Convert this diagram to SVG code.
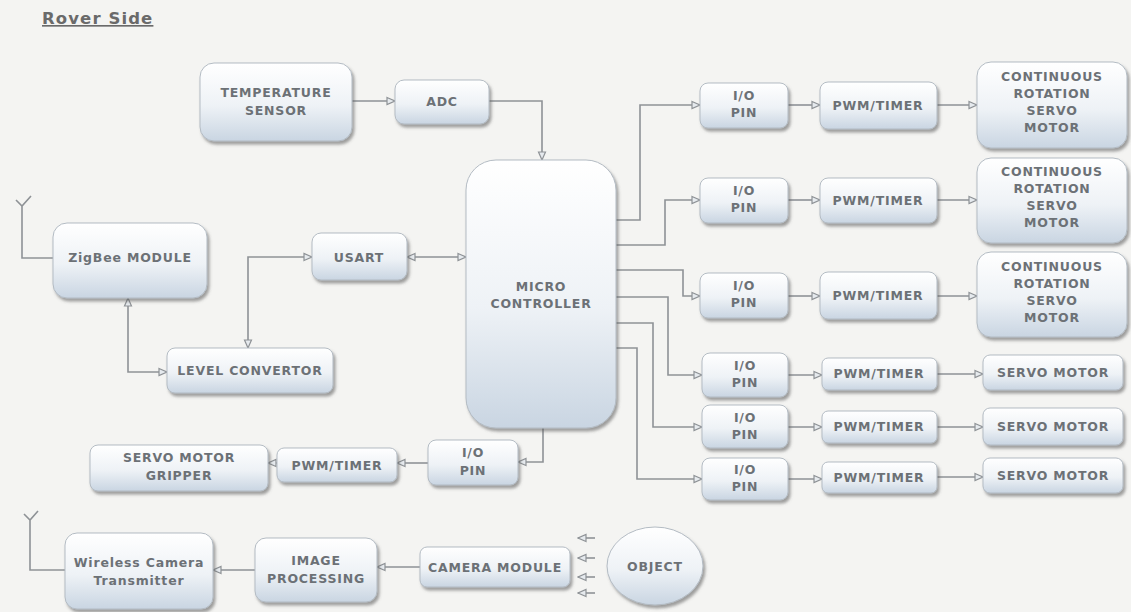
<svg xmlns="http://www.w3.org/2000/svg" width="1131" height="612" viewBox="0 0 1131 612">
<style>
.bx{fill:url(#g);stroke:#b3bbc3;stroke-width:1;filter:url(#sh)}
.t{font-family:"DejaVu Sans","Liberation Sans",sans-serif;font-weight:bold;font-size:12.5px;fill:#6c7176;text-anchor:middle;letter-spacing:0.8px}
.c{fill:none;stroke:#8e9296;stroke-width:1.6}
.a{marker-end:url(#ar)}
.s{marker-start:url(#as)}
</style>
<defs>
<linearGradient id="g" x1="0" y1="0" x2="0" y2="1">
<stop offset="0" stop-color="#ffffff"/>
<stop offset="0.55" stop-color="#eef2f6"/>
<stop offset="1" stop-color="#c9d5e2"/>
</linearGradient>
<filter id="sh" x="-10%" y="-10%" width="125%" height="130%">
<feDropShadow dx="2" dy="3" stdDeviation="1.8" flood-color="#555" flood-opacity="0.55"/>
</filter>
<marker id="ar" viewBox="0 0 10 10" refX="9" refY="5" markerWidth="10" markerHeight="10" orient="auto" markerUnits="userSpaceOnUse">
<path d="M1,1.5 L9,5 L1,8.5 Z" fill="#e6eaee" stroke="#8e9296" stroke-width="1.2"/>
</marker>
<marker id="as" viewBox="0 0 10 10" refX="1" refY="5" markerWidth="10" markerHeight="10" orient="auto" markerUnits="userSpaceOnUse">
<path d="M9,1.5 L1,5 L9,8.5 Z" fill="#e6eaee" stroke="#8e9296" stroke-width="1.2"/>
</marker>
</defs>
<rect x="0" y="0" width="1131" height="612" fill="#f4f4f2"/>
<g id="title">
<text x="42" y="24" font-family="DejaVu Sans,sans-serif" font-weight="bold" font-size="16.5" fill="#6a6a6a" letter-spacing="1.1" text-decoration="underline">Rover Side</text>
</g>
<g id="connectors">
<path class="c a" d="M352,101 H395"/>
<path class="c a" d="M489,101 H542 V160"/>
<path class="c a s" d="M407,257 H466"/>
<path class="c a s" d="M312,257 H248 V348"/>
<path class="c a s" d="M128,298 V372 H167"/>
<path class="c" d="M22,206 V258 H53 M16,200 L22,206 L31,196"/>
<path class="c a" d="M616,220 H640 V105 H700"/>
<path class="c a" d="M616,245 H665 V200 H700"/>
<path class="c a" d="M616,270 H683 V296 H700"/>
<path class="c a" d="M616,297 H668 V375 H702"/>
<path class="c a" d="M616,323 H653 V427 H702"/>
<path class="c a" d="M616,348 H637 V479 H702"/>
<path class="c a" d="M788,105 H820"/>
<path class="c a" d="M788,200 H820"/>
<path class="c a" d="M788,296 H820"/>
<path class="c a" d="M788,375 H822"/>
<path class="c a" d="M788,427 H822"/>
<path class="c a" d="M788,479 H822"/>
<path class="c a" d="M937,105 H977"/>
<path class="c a" d="M937,200 H977"/>
<path class="c a" d="M937,296 H977"/>
<path class="c a" d="M937,374 H983"/>
<path class="c a" d="M937,427 H983"/>
<path class="c a" d="M937,477 H983"/>
<path class="c a" d="M543,428 V462 H518"/>
<path class="c a" d="M428,463 H397"/>
<path class="c a" d="M277,463 H268"/>
<path class="c a" d="M420,567 H377"/>
<path class="c a" d="M255,570 H213"/>
<path class="c" d="M30,520 V570 H65 M24,514 L30,520 L38,511"/>
<path class="c a" d="M595,538 H578"/>
<path class="c a" d="M595,558 H578"/>
<path class="c a" d="M595,577 H578"/>
<path class="c a" d="M595,593 H578"/>
</g>
<g id="temp"><rect class="bx" x="200" y="63" width="152" height="78" rx="14"/><text class="t" x="276" y="97">TEMPERATURE</text><text class="t" x="276" y="115">SENSOR</text></g>
<g id="adc"><rect class="bx" x="395" y="80" width="94" height="44" rx="9"/><text class="t" x="442" y="106">ADC</text></g>
<g id="micro"><rect class="bx" x="466" y="160" width="150" height="268" rx="30"/><text class="t" x="541" y="291">MICRO</text><text class="t" x="541" y="308">CONTROLLER</text></g>
<g id="zigbee"><rect class="bx" x="53" y="223" width="154" height="75" rx="14"/><text class="t" x="130" y="262">ZigBee MODULE</text></g>
<g id="usart"><rect class="bx" x="312" y="233" width="95" height="47" rx="9"/><text class="t" x="359" y="262">USART</text></g>
<g id="level"><rect class="bx" x="167" y="348" width="166" height="45" rx="8"/><text class="t" x="250" y="375">LEVEL CONVERTOR</text></g>
<g id="io1"><rect class="bx" x="700" y="83" width="88" height="45" rx="8"/><text class="t" x="744" y="100">I/O</text><text class="t" x="744" y="117">PIN</text></g>
<g id="io2"><rect class="bx" x="700" y="178" width="88" height="45" rx="8"/><text class="t" x="744" y="195">I/O</text><text class="t" x="744" y="212">PIN</text></g>
<g id="io3"><rect class="bx" x="700" y="273" width="88" height="45" rx="8"/><text class="t" x="744" y="290">I/O</text><text class="t" x="744" y="307">PIN</text></g>
<g id="io4"><rect class="bx" x="702" y="353" width="86" height="44" rx="8"/><text class="t" x="745" y="370">I/O</text><text class="t" x="745" y="387">PIN</text></g>
<g id="io5"><rect class="bx" x="702" y="405" width="86" height="43" rx="8"/><text class="t" x="745" y="422">I/O</text><text class="t" x="745" y="439">PIN</text></g>
<g id="io6"><rect class="bx" x="702" y="458" width="86" height="42" rx="8"/><text class="t" x="745" y="474">I/O</text><text class="t" x="745" y="491">PIN</text></g>
<g id="pwm1"><rect class="bx" x="820" y="82" width="117" height="47" rx="8"/><text class="t" x="878" y="110">PWM/TIMER</text></g>
<g id="pwm2"><rect class="bx" x="820" y="178" width="117" height="45" rx="8"/><text class="t" x="878" y="205">PWM/TIMER</text></g>
<g id="pwm3"><rect class="bx" x="820" y="272" width="117" height="47" rx="8"/><text class="t" x="878" y="300">PWM/TIMER</text></g>
<g id="pwm4"><rect class="bx" x="822" y="358" width="115" height="32" rx="6"/><text class="t" x="879" y="378">PWM/TIMER</text></g>
<g id="pwm5"><rect class="bx" x="822" y="411" width="115" height="32" rx="6"/><text class="t" x="879" y="431">PWM/TIMER</text></g>
<g id="pwm6"><rect class="bx" x="822" y="462" width="115" height="31" rx="6"/><text class="t" x="879" y="482">PWM/TIMER</text></g>
<g id="crs1"><rect class="bx" x="977" y="62" width="150" height="86" rx="14"/><text class="t" x="1052" y="81">CONTINUOUS</text><text class="t" x="1052" y="98">ROTATION</text><text class="t" x="1052" y="115">SERVO</text><text class="t" x="1052" y="132">MOTOR</text></g>
<g id="crs2"><rect class="bx" x="977" y="158" width="150" height="85" rx="14"/><text class="t" x="1052" y="176">CONTINUOUS</text><text class="t" x="1052" y="193">ROTATION</text><text class="t" x="1052" y="210">SERVO</text><text class="t" x="1052" y="227">MOTOR</text></g>
<g id="crs3"><rect class="bx" x="977" y="252" width="150" height="85" rx="14"/><text class="t" x="1052" y="271">CONTINUOUS</text><text class="t" x="1052" y="288">ROTATION</text><text class="t" x="1052" y="305">SERVO</text><text class="t" x="1052" y="322">MOTOR</text></g>
<g id="servo4"><rect class="bx" x="983" y="355" width="140" height="35" rx="7"/><text class="t" x="1053" y="377">SERVO MOTOR</text></g>
<g id="servo5"><rect class="bx" x="983" y="408" width="140" height="37" rx="7"/><text class="t" x="1053" y="431">SERVO MOTOR</text></g>
<g id="servo6"><rect class="bx" x="983" y="458" width="140" height="35" rx="7"/><text class="t" x="1053" y="480">SERVO MOTOR</text></g>
<g id="iob"><rect class="bx" x="428" y="440" width="90" height="45" rx="8"/><text class="t" x="473" y="457">I/O</text><text class="t" x="473" y="475">PIN</text></g>
<g id="pwmb"><rect class="bx" x="277" y="448" width="120" height="34" rx="7"/><text class="t" x="337" y="470">PWM/TIMER</text></g>
<g id="gripper"><rect class="bx" x="90" y="445" width="178" height="46" rx="8"/><text class="t" x="179" y="462">SERVO MOTOR</text><text class="t" x="179" y="480">GRIPPER</text></g>
<g id="wireless"><rect class="bx" x="65" y="533" width="148" height="76" rx="12"/><text class="t" x="139" y="567">Wireless Camera</text><text class="t" x="139" y="585">Transmitter</text></g>
<g id="imgproc"><rect class="bx" x="255" y="538" width="122" height="64" rx="11"/><text class="t" x="316" y="565">IMAGE</text><text class="t" x="316" y="583">PROCESSING</text></g>
<g id="camera"><rect class="bx" x="420" y="547" width="150" height="40" rx="7"/><text class="t" x="495" y="572">CAMERA MODULE</text></g>
<g id="object"><ellipse class="bx" cx="655" cy="566" rx="48" ry="39"/><text class="t" x="655" y="571">OBJECT</text></g>
</svg>
